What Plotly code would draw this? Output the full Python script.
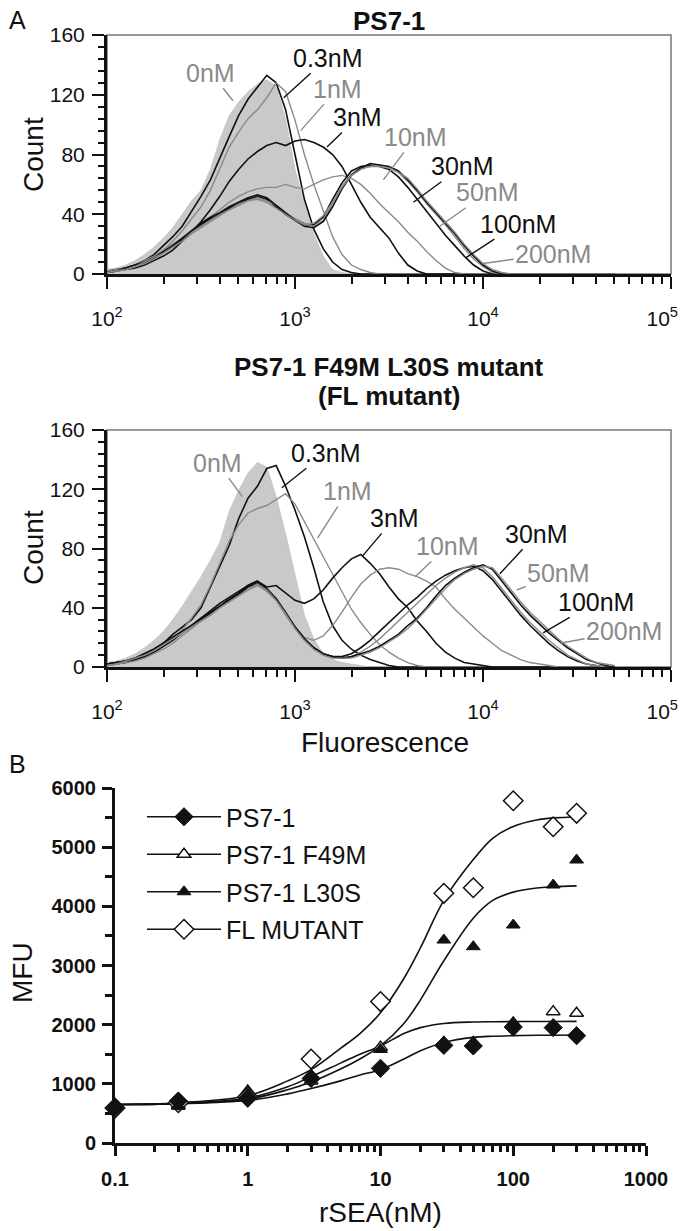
import plotly.graph_objects as go

# page body adds an 8px margin, so the figure is laid out in page pixels minus OFF
OFF = 8
W, H = 686 - OFF, 1231 - OFF

# ---------------- DATA ----------------
# log10(fluorescence) channel positions used for the histogram readings
LOG_F = [2.00, 2.05, 2.10, 2.15, 2.20, 2.25, 2.30, 2.35, 2.40, 2.45,
         2.50, 2.55, 2.60, 2.65, 2.70, 2.75, 2.80, 2.85, 2.90, 2.95,
         3.00, 3.05, 3.10, 3.15, 3.20, 3.25, 3.30, 3.35, 3.40, 3.45,
         3.50, 3.55, 3.60, 3.65, 3.70, 3.75, 3.80, 3.85, 3.90, 3.95,
         4.00, 4.05, 4.10, 4.15, 4.20, 4.25, 4.30, 4.35, 4.40, 4.45,
         4.50, 4.55, 4.60, 4.65, 4.70]

CONC_LABELS = ["0nM", "0.3nM", "1nM", "3nM", "10nM", "30nM", "50nM", "100nM", "200nM"]

# PS7-1 histograms (counts)
T_0NM = [3, 4, 6, 9, 13, 18, 24, 31, 40, 49, 56, 70, 90, 106, 115, 122, 127, 130, 126, 104, 70, 47, 27, 12, 3, 1]
T_03NM = [2, 3, 4, 6, 9, 13, 19, 25, 32, 42, 52, 63, 78, 92, 106, 117, 125, 133, 128, 110, 80, 50, 30, 17, 8, 3, 1]
T_1NM = [2, 3, 4, 5, 8, 11, 16, 22, 29, 37, 45, 56, 70, 85, 95, 104, 110, 118, 128, 122, 103, 80, 60, 42, 25, 13, 6, 3, 1]
T_3NM = [1, 2, 3, 4, 6, 9, 12, 16, 22, 28, 35, 43, 52, 62, 70, 77, 82, 86, 88, 86, 89, 90, 88, 85, 80, 72, 60, 48, 38, 31, 24, 14, 6, 2]
T_10NM = [1, 2, 3, 5, 7, 10, 14, 18, 23, 28, 33, 38, 43, 48, 52, 55, 57, 58, 58, 60, 58, 57, 60, 63, 65, 66, 64, 60, 54, 47, 41, 35, 28, 22, 15, 9, 4, 1]
T_30NM = [1, 2, 4, 6, 8, 11, 15, 19, 23, 28, 33, 37, 40, 44, 47, 50, 52, 50, 45, 40, 36, 33, 33, 38, 50, 61, 69, 72, 73, 72, 70, 65, 58, 50, 42, 34, 26, 19, 12, 6, 2]
T_50NM = [1, 2, 3, 6, 9, 12, 16, 20, 24, 28, 32, 36, 40, 43, 47, 49, 51, 49, 46, 41, 37, 34, 32, 36, 47, 59, 67, 71, 72, 73, 71, 68, 62, 55, 47, 40, 33, 25, 17, 10, 5, 1]
T_100NM = [1, 2, 4, 6, 8, 11, 15, 19, 24, 29, 34, 38, 41, 45, 48, 51, 53, 51, 46, 41, 36, 32, 31, 35, 45, 57, 66, 71, 74, 73, 72, 69, 63, 56, 48, 41, 34, 27, 19, 12, 6, 2]
T_200NM = [1, 2, 3, 5, 8, 11, 14, 18, 22, 27, 31, 35, 39, 43, 46, 49, 50, 48, 44, 40, 36, 33, 34, 39, 48, 58, 66, 70, 72, 72, 71, 68, 64, 57, 49, 42, 35, 28, 20, 13, 7, 3, 1]

# FL mutant histograms
M_0NM = [3, 4, 6, 9, 13, 18, 24, 32, 41, 51, 61, 72, 84, 105, 119, 131, 138, 135, 115, 90, 62, 35, 19, 9, 5, 3, 2, 1]
M_03NM = [2, 3, 4, 6, 9, 12, 16, 22, 27, 32, 40, 54, 68, 82, 100, 114, 122, 134, 136, 122, 106, 88, 67, 44, 28, 18, 12, 8, 5, 3, 1]
M_1NM = [2, 3, 4, 5, 7, 10, 14, 19, 25, 33, 42, 55, 70, 85, 96, 104, 107, 109, 113, 117, 110, 98, 87, 74, 62, 50, 39, 30, 22, 15, 10, 6, 3, 1]
M_3NM = [1, 2, 3, 5, 7, 10, 14, 18, 23, 28, 33, 38, 43, 47, 51, 55, 58, 54, 55, 50, 45, 43, 46, 52, 60, 67, 73, 76, 70, 63, 54, 46, 40, 31, 24, 16, 10, 6, 3, 2, 1]
M_10NM = [1, 2, 3, 4, 6, 9, 12, 16, 21, 26, 31, 36, 41, 46, 50, 54, 56, 52, 45, 36, 27, 20, 18, 21, 28, 37, 47, 56, 62, 66, 67, 66, 63, 61, 58, 54, 46, 39, 33, 27, 21, 16, 11, 8, 5, 3, 2, 1]
M_30NM = [2, 3, 4, 6, 9, 12, 16, 20, 24, 28, 32, 36, 41, 45, 49, 54, 57, 52, 46, 36, 27, 19, 13, 9, 7, 7, 9, 13, 18, 24, 30, 36, 42, 47, 53, 58, 62, 65, 67, 68, 65, 59, 51, 43, 35, 28, 22, 16, 11, 7, 4, 2, 1]
M_50NM = [1, 2, 4, 6, 8, 11, 15, 19, 23, 27, 31, 35, 40, 44, 48, 52, 55, 51, 45, 35, 26, 18, 12, 8, 6, 6, 7, 10, 14, 19, 25, 31, 37, 43, 49, 55, 60, 64, 67, 69, 67, 61, 53, 45, 37, 30, 24, 18, 13, 8, 5, 2, 1]
M_100NM = [2, 3, 4, 6, 9, 12, 16, 20, 24, 28, 33, 37, 41, 46, 50, 55, 58, 53, 46, 37, 27, 19, 13, 9, 7, 6, 7, 9, 11, 14, 18, 22, 28, 33, 40, 48, 55, 60, 64, 67, 69, 66, 58, 50, 42, 35, 29, 23, 18, 13, 9, 5, 3, 1]
M_200NM = [1, 2, 4, 6, 8, 11, 15, 19, 23, 27, 31, 35, 40, 44, 48, 52, 56, 52, 45, 36, 26, 18, 12, 8, 6, 6, 6, 8, 10, 13, 17, 21, 26, 32, 39, 46, 53, 59, 63, 66, 68, 67, 60, 52, 44, 37, 31, 25, 19, 14, 10, 6, 3, 2, 1]

# label anchor points on the curves (log10 F, count)
TOP_LABEL_PTS = [(2.67, 116), (2.94, 118), (3.03, 96), (3.17, 85), (3.47, 63), (3.63, 48), (3.77, 32), (3.91, 11), (4.00, 7)]
MID_LABEL_PTS = [(2.72, 115), (2.93, 121), (3.12, 87), (3.36, 75), (3.64, 61), (4.09, 63), (4.18, 52), (4.32, 23), (4.41, 16)]

# Panel B: binding curves
RSEA = [0.1, 0.3, 1, 3, 10, 30, 50, 100, 200, 300]
MFU_PS71 = [600, 710, 760, 1090, 1262, 1650, 1640, 1960, 1950, 1814]
MFU_F49M = [600, 640, 880, 1050, 1620, 1700, 1700, 2030, 2220, 2192]
MFU_L30S = [600, 620, 820, 1150, 1580, 3430, 3318, 3684, 4360, 4783]
MFU_FL = [590, 680, 780, 1420, 2390, 4220, 4315, 5785, 5345, 5572]

# fitted curves
FIT_X = [0.1, 0.3, 1, 2, 3, 5, 7, 10, 15, 20, 30, 50, 70, 100, 150, 200, 300]
FIT_PS71 = [650, 665, 720, 830, 920, 1050, 1150, 1240, 1420, 1560, 1700, 1785, 1805, 1815, 1820, 1822, 1825]
FIT_F49M = [650, 670, 760, 950, 1120, 1350, 1500, 1640, 1850, 1950, 2020, 2045, 2050, 2052, 2053, 2054, 2055]
FIT_L30S = [650, 665, 740, 900, 1030, 1250, 1420, 1640, 2020, 2420, 3080, 3800, 4100, 4240, 4310, 4330, 4345]
FIT_FL = [650, 680, 800, 1050, 1240, 1600, 1850, 2200, 2780, 3300, 4100, 4790, 5150, 5350, 5460, 5495, 5510]

SERIES_B = ["PS7-1", "PS7-1 F49M", "PS7-1 L30S", "FL MUTANT"]

# ---------------- STYLE ----------------
FONT = "Liberation Sans, Arial, sans-serif"
BLACK = "#111111"
GREY = "#8a8a8a"
FILL = "#c9c9c9"
LABEL_COLORS = [GREY, BLACK, GREY, BLACK, GREY, BLACK, GREY, BLACK, GREY]
NBSP = "\u00a0"


def full(vals):
    return vals + [0] * (len(LOG_F) - len(vals))


FLUOR = [10 ** v for v in LOG_F]


def px(x):
    return (x - OFF) / W


def py(y):
    return 1 - (y - OFF) / H


fig = go.Figure()

top_sets = [T_0NM, T_03NM, T_1NM, T_3NM, T_10NM, T_30NM, T_50NM, T_100NM, T_200NM]
mid_sets = [M_0NM, M_03NM, M_1NM, M_3NM, M_10NM, M_30NM, M_50NM, M_100NM, M_200NM]

for sets, xa, ya in [(top_sets, "x", "y"), (mid_sets, "x2", "y2")]:
    fig.add_trace(go.Scatter(x=FLUOR, y=full(sets[0]), mode="lines", fill="tozeroy",
                             fillcolor=FILL, line=dict(color="#c4c4c4", width=0.8),
                             xaxis=xa, yaxis=ya, showlegend=False, name=CONC_LABELS[0]))
    for i in range(1, len(sets)):
        col = LABEL_COLORS[i]
        fig.add_trace(go.Scatter(x=FLUOR, y=full(sets[i]), mode="lines",
                                 line=dict(color=col, width=1.6 if col == BLACK else 1.4),
                                 xaxis=xa, yaxis=ya, showlegend=False, name=CONC_LABELS[i]))

# curve labels with leader lines (offsets in pixels from the anchor point)
TOP_OFFS = [(-22, -28), (44, -40), (37, -42), (31, -30), (32, -43), (49, -36), (48, -34), (52, -34), (70, -10)]
MID_OFFS = [(-25, -34), (44, -35), (30, -47), (32, -38), (32, -31), (37, -40), (42, -17), (53, -31), (64, -12)]
annotations = []
for pts_, offs, xr, yr in [(TOP_LABEL_PTS, TOP_OFFS, "x", "y"), (MID_LABEL_PTS, MID_OFFS, "x2", "y2")]:
    for lab, (lx, ly), (ax, ay), col in zip(CONC_LABELS, pts_, offs, LABEL_COLORS):
        annotations.append(dict(x=lx, y=ly, xref=xr, yref=yr, text=lab, showarrow=True,
                                arrowhead=0, arrowwidth=1.4, arrowcolor=col, ax=ax, ay=ay,
                                standoff=0, font=dict(size=25, color=col, family=FONT)))

# Panel B
marker_styles = [
    dict(symbol="diamond", size=14, color=BLACK, line=dict(color=BLACK, width=1)),
    dict(symbol="triangle-up", size=12, color="white", line=dict(color=BLACK, width=1.5)),
    dict(symbol="triangle-up", size=12, color=BLACK, line=dict(color=BLACK, width=1)),
    dict(symbol="diamond", size=15, color="white", line=dict(color=BLACK, width=1.5)),
]
fits = [FIT_PS71, FIT_F49M, FIT_L30S, FIT_FL]
pts = [MFU_PS71, MFU_F49M, MFU_L30S, MFU_FL]
for f in fits:
    fig.add_trace(go.Scatter(x=FIT_X, y=f, mode="lines", line=dict(color=BLACK, width=1.6, shape="spline"),
                             xaxis="x3", yaxis="y3", showlegend=False))
for order in [1, 3, 0, 2]:
    fig.add_trace(go.Scatter(x=RSEA, y=pts[order], mode="markers", marker=marker_styles[order],
                             xaxis="x3", yaxis="y3", showlegend=False, cliponaxis=False))
for name, ms in zip(SERIES_B, marker_styles):
    fig.add_trace(go.Scatter(x=[None], y=[None], mode="lines+markers", name=name,
                             marker=ms, line=dict(color=BLACK, width=1.6),
                             xaxis="x3", yaxis="y3", showlegend=True, legendgroup=name))

# ---------------- AXES ----------------
HX = [107, 671]
dec_minor = [m * 10 ** e for e in (2, 3, 4) for m in range(2, 10)]


def hist_x(dom_anchor):
    return dict(type="log", range=[2, 5], domain=[px(HX[0]), px(HX[1])], anchor=dom_anchor,
                automargin=False, ticklabeloverflow="allow",
                showline=True, linecolor=BLACK, linewidth=3, ticks="outside", ticklen=12,
                tickwidth=2, tickcolor=BLACK, tickvals=[1e2, 1e3, 1e4, 1e5],
                ticktext=["10<sup>2</sup>", "10<sup>3</sup>", "10<sup>4</sup>",
                          "10<sup>5</sup>" + NBSP * 3],
                tickfont=dict(size=21, color=BLACK, family=FONT), showgrid=False, zeroline=False,
                ticklabelstandoff=12,
                minor=dict(ticks="outside", ticklen=7, tickwidth=2, tickcolor=BLACK,
                           tickmode="array", tickvals=dec_minor))


def hist_y(top, bottom, anchor):
    return dict(range=[0, 160], domain=[py(bottom), py(top)], anchor=anchor,
                automargin=False, ticklabeloverflow="allow",
                showline=True, linecolor=BLACK, linewidth=3, ticks="outside", ticklen=12,
                tickwidth=2, tickcolor=BLACK, tickvals=[0, 40, 80, 120, 160],
                tickfont=dict(size=21, color=BLACK, family=FONT), showgrid=False, zeroline=False,
                ticklabelstandoff=3,
                minor=dict(ticks="outside", ticklen=6, tickwidth=1.5, tickcolor=BLACK, dtick=8))


b_minor = [m * 10 ** e for e in (-1, 0, 1, 2) for m in range(2, 10)]

fig.update_layout(
    width=W, height=H, margin=dict(l=0, r=0, t=0, b=0, autoexpand=False),
    paper_bgcolor="white", plot_bgcolor="white",
    font=dict(family=FONT, color=BLACK),
    xaxis=hist_x("y"), yaxis=hist_y(35, 274, "x"),
    xaxis2=hist_x("y2"), yaxis2=hist_y(430, 667, "x2"),
    xaxis3=dict(type="log", range=[-1, 3], domain=[px(115), px(646)], anchor="y3", automargin=False,
                ticklabeloverflow="allow",
                showline=True, linecolor=BLACK, linewidth=3, ticks="outside", ticklen=10,
                tickwidth=2.5, tickcolor=BLACK, tickvals=[0.1, 1, 10, 100, 1000],
                ticktext=["<b>0.1</b>", "<b>1</b>", "<b>10</b>", "<b>100</b>", "<b>1000</b>"],
                tickfont=dict(size=20, color=BLACK, family=FONT), showgrid=False, zeroline=False,
                ticklabelstandoff=6,
                minor=dict(ticks="outside", ticklen=6, tickwidth=2.5, tickcolor=BLACK,
                           tickmode="array", tickvals=b_minor)),
    yaxis3=dict(range=[0, 6000], domain=[py(1143), py(788)], anchor="x3", automargin=False,
                ticklabeloverflow="allow",
                showline=True, linecolor=BLACK, linewidth=3, ticks="outside", ticklen=10,
                tickwidth=2.5, tickcolor=BLACK, tickvals=[0, 1000, 2000, 3000, 4000, 5000, 6000],
                ticktext=["<b>%d</b>" % v for v in [0, 1000, 2000, 3000, 4000, 5000, 6000]],
                tickfont=dict(size=20, color=BLACK, family=FONT), showgrid=False, zeroline=False,
                ticklabelstandoff=2,
                minor=dict(ticks="outside", ticklen=7, tickwidth=2.5, tickcolor=BLACK, dtick=500)),
    legend=dict(x=px(142), y=py(794), xanchor="left", yanchor="top", itemwidth=74,
                font=dict(size=25, color=BLACK, family=FONT), tracegroupgap=2,
                bgcolor="rgba(0,0,0,0)", traceorder="grouped"),
    showlegend=True,
)

# thin grey frame (top/right) around histogram panels
shapes = []
for xr, yr in [("x", "y"), ("x2", "y2")]:
    shapes.append(dict(type="rect", xref=xr + " domain", yref=yr + " domain", x0=0, x1=1, y0=0, y1=1,
                       line=dict(color="#777777", width=1.5), layer="below"))


def ann(x, y, text, size, angle=0):
    return dict(x=px(x), y=py(y), xref="paper", yref="paper", text=text, showarrow=False,
                xanchor="center", yanchor="middle", textangle=angle,
                font=dict(size=size, color=BLACK, family=FONT))


annotations += [
    ann(17, 20, "A", 25),
    ann(17, 764, "B", 25),
    ann(389, 21, "<b>PS7-1</b>", 26),
    ann(389, 367, "<b>PS7-1 F49M L30S mutant</b>", 26),
    ann(389, 396, "<b>(FL mutant)</b>", 26),
    ann(33, 155, "Count", 28, -90),
    ann(33, 548, "Count", 28, -90),
    ann(385, 742, "Fluorescence", 28),
    ann(22, 973, "MFU", 28, -90),
    ann(380, 1212, "rSEA(nM)", 28),
]
fig.update_layout(annotations=annotations, shapes=shapes)

fig.write_html("out.html")
